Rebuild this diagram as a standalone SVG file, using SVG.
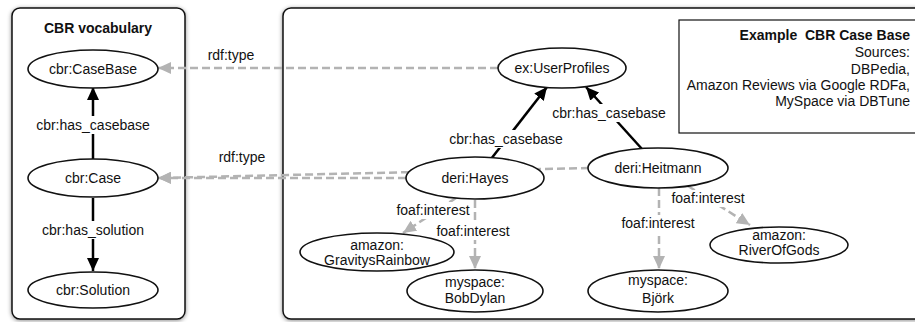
<svg xmlns="http://www.w3.org/2000/svg" width="915" height="322" viewBox="0 0 915 322">
<style>
text{font-family:"Liberation Sans",Arial,Helvetica,sans-serif;font-size:14px;fill:#111;}
.c{text-anchor:middle;}
.r{text-anchor:end;}
.b{font-weight:bold;}
.pre{white-space:pre;}
.panel{fill:#fff;stroke:#111;stroke-width:1.5;}
.node{fill:#fff;stroke:#111;stroke-width:1.6;}
.solid{stroke:#000;stroke-width:2.5;fill:none;}
.dash{stroke:#b3b3b3;stroke-width:2.5;stroke-dasharray:8 4;fill:none;}
.lbg{fill:#fff;}
</style>
<defs>
<filter id="sh" x="-10%" y="-10%" width="120%" height="120%">
<feDropShadow dx="0" dy="1" stdDeviation="2" flood-color="#000" flood-opacity="0.45"/>
</filter>
<marker id="ab" markerUnits="userSpaceOnUse" markerWidth="14" markerHeight="12" refX="13" refY="6" orient="auto">
<path d="M0,0 L13,6 L0,12 Z" fill="#000"/>
</marker>
<marker id="ag" markerUnits="userSpaceOnUse" markerWidth="14" markerHeight="12" refX="13" refY="6" orient="auto">
<path d="M0,0 L13,6 L0,12 Z" fill="#b3b3b3"/>
</marker>
</defs>
<rect width="915" height="322" fill="#fff"/>
<g id="panel-vocab">
<rect class="panel" x="12" y="8" width="173" height="311" rx="8" filter="url(#sh)"/>
<text class="c b" x="98" y="33">CBR vocabulary</text>
</g>
<g id="panel-casebase">
<rect class="panel" x="283" y="8" width="660" height="311" rx="8" filter="url(#sh)"/>
</g>
<g id="infobox">
<rect x="679" y="20" width="260" height="113" fill="#fff" stroke="#111" stroke-width="1.2"/>
<text class="r b pre" x="910" y="40" xml:space="preserve">Example  CBR Case Base</text>
<text class="r" x="910" y="57">Sources:</text>
<text class="r" x="910" y="74">DBPedia,</text>
<text class="r" x="910" y="90">Amazon Reviews via Google RDFa,</text>
<text class="r" x="910" y="106">MySpace via DBTune</text>
</g>
<g id="connectors">
<line class="dash" x1="498" y1="68" x2="158" y2="68" marker-end="url(#ag)"/>
<text class="c" x="231" y="60">rdf:type</text>
<line class="dash" x1="589" y1="168" x2="158" y2="178" marker-end="url(#ag)"/>
<line class="dash" x1="406" y1="178" x2="158" y2="178" marker-end="url(#ag)"/>
<text class="c" x="242" y="162">rdf:type</text>
<line class="solid" x1="93" y1="159" x2="93" y2="87" marker-end="url(#ab)"/>
<rect class="lbg" x="36" y="116" width="114" height="18"/>
<text class="c" x="93" y="130">cbr:has_casebase</text>
<line class="solid" x1="93" y1="198" x2="93" y2="271" marker-end="url(#ab)"/>
<rect class="lbg" x="40" y="221" width="106" height="18"/>
<text class="c" x="93" y="235">cbr:has_solution</text>
<line class="solid" x1="491" y1="159" x2="547" y2="87" marker-end="url(#ab)"/>
<rect class="lbg" x="449" y="130" width="114" height="18"/>
<text class="c" x="506" y="144">cbr:has_casebase</text>
<line class="solid" x1="642" y1="149" x2="586" y2="87" marker-end="url(#ab)"/>
<rect class="lbg" x="552" y="104" width="114" height="18"/>
<text class="c" x="609" y="118">cbr:has_casebase</text>
<line class="dash" x1="456" y1="198" x2="403" y2="233" marker-end="url(#ag)"/>
<rect class="lbg" x="396" y="202" width="76" height="17"/>
<text class="c" x="433" y="215">foaf:interest</text>
<line class="dash" x1="475" y1="200" x2="475" y2="269" marker-end="url(#ag)"/>
<rect class="lbg" x="435" y="223" width="76" height="17"/>
<text class="c" x="473" y="236">foaf:interest</text>
<line class="dash" x1="659" y1="188" x2="659" y2="269" marker-end="url(#ag)"/>
<rect class="lbg" x="620" y="215" width="76" height="17"/>
<text class="c" x="658" y="228">foaf:interest</text>
<line class="dash" x1="688" y1="186" x2="750" y2="225" marker-end="url(#ag)"/>
<rect class="lbg" x="670" y="190" width="76" height="17"/>
<text class="c" x="708" y="203">foaf:interest</text>
</g>
<g id="n-casebase">
<ellipse class="node" cx="93" cy="69" rx="65" ry="19"/>
<text class="c" x="93" y="74">cbr:CaseBase</text>
</g>
<g id="n-case">
<ellipse class="node" cx="93" cy="178" rx="65" ry="19"/>
<text class="c" x="93" y="183">cbr:Case</text>
</g>
<g id="n-solution">
<ellipse class="node" cx="93" cy="290" rx="65" ry="18"/>
<text class="c" x="93" y="295">cbr:Solution</text>
</g>
<g id="n-userprofiles">
<ellipse class="node" cx="562" cy="68" rx="64" ry="20"/>
<text class="c" x="562" y="73">ex:UserProfiles</text>
</g>
<g id="n-hayes">
<ellipse class="node" cx="475" cy="178" rx="69" ry="21"/>
<text class="c" x="475" y="183">deri:Hayes</text>
</g>
<g id="n-heitmann">
<ellipse class="node" cx="658" cy="168" rx="70" ry="20"/>
<text class="c" x="658" y="173">deri:Heitmann</text>
</g>
<g id="n-gravitys">
<ellipse class="node" cx="377" cy="252" rx="77" ry="19"/>
<text class="c" x="377" y="250">amazon:</text>
<text class="c" x="377" y="265">GravitysRainbow</text>
</g>
<g id="n-bobdylan">
<ellipse class="node" cx="475" cy="291" rx="68" ry="21"/>
<text class="c" x="475" y="287">myspace:</text>
<text class="c" x="475" y="303">BobDylan</text>
</g>
<g id="n-bjork">
<ellipse class="node" cx="658" cy="291" rx="70" ry="21"/>
<text class="c" x="658" y="285">myspace:</text>
<text class="c" x="658" y="303">Björk</text>
</g>
<g id="n-riverofgods">
<ellipse class="node" cx="779" cy="245" rx="69" ry="18"/>
<text class="c" x="779" y="240">amazon:</text>
<text class="c" x="779" y="255">RiverOfGods</text>
</g>
</svg>
